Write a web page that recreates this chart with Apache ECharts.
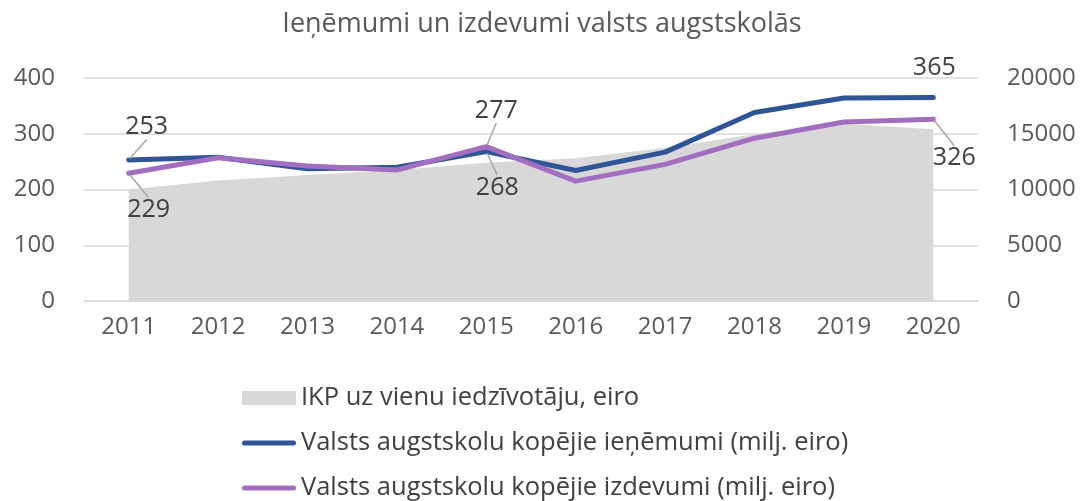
<!DOCTYPE html>
<html>
<head>
<meta charset="utf-8">
<script src="https://cdn.jsdelivr.net/npm/echarts@6/dist/echarts.min.js"></script>
<style>
html,body{margin:0;padding:0;background:#fff;}
#c{width:1084px;height:501px;}
</style>
</head>
<body>
<div id="c"></div>
<script>
const titleText = 'Ieņēmumi un izdevumi valsts augstskolās';
const years = ['2011','2012','2013','2014','2015','2016','2017','2018','2019','2020'];
const gdpName = 'IKP uz vienu iedzīvotāju, eiro';
const revName = 'Valsts augstskolu kopējie ieņēmumi (milj. eiro)';
const expName = 'Valsts augstskolu kopējie izdevumi (milj. eiro)';
const gdpPerCapita = [10000, 10800, 11300, 11750, 12400, 12800, 13750, 14950, 15900, 15400];
const revenue = [253, 258, 237, 240, 268, 234, 267, 338, 364, 365];
const expenses = [229, 257, 242, 235, 277, 215, 245, 292, 321, 326];
const leftTicks = [0, 100, 200, 300, 400];
const rightTicks = [0, 5000, 10000, 15000, 20000];
const labelledIdx = [0, 4, 9];

// label offsets (style), keyed by series index then data index
const labelOffsets = {
  1: {0: [18, -33], 4: [11, 36], 9: [1, -30]},
  2: {0: [20, 37], 4: [10, -36], 9: [21, 39]}
};
const noLeader = {1: {9: true}};

function buildLine(vals, sIdx) {
  return vals.map((v, i) => {
    const show = labelledIdx.indexOf(i) >= 0;
    const item = {value: v, label: {show: show}};
    if (show) item.labelLine = {show: !(noLeader[sIdx] && noLeader[sIdx][i])};
    return item;
  });
}

const chart = echarts.init(document.getElementById('c'));
const FONT = 'Open Sans';
const labelLayout = function (p) {
  const m = labelOffsets[p.seriesIndex];
  if (!m || !m[p.dataIndex]) return {};
  const d = m[p.dataIndex];
  return {
    x: p.rect.x + p.rect.width / 2 + d[0],
    y: p.rect.y + p.rect.height / 2 + d[1],
    align: 'center',
    verticalAlign: 'middle'
  };
};
const lineIcon = 'path://M2.5,0 H51.5 A2.5,2.5 0 0 1 51.5,5 H2.5 A2.5,2.5 0 0 1 2.5,0 Z';
chart.setOption({
  animation: false,
  backgroundColor: '#ffffff',
  textStyle: {fontFamily: FONT},
  title: {
    text: titleText,
    left: 'center',
    top: 11,
    padding: 0,
    textStyle: {fontFamily: FONT, fontSize: 27, fontWeight: 'normal', color: '#595959'}
  },
  grid: {left: 84, right: 106, top: 78, bottom: 200, containLabel: false},
  legend: {
    orient: 'vertical',
    left: 242,
    top: 383,
    height: 300,
    padding: 0,
    itemWidth: 54,
    itemHeight: 14,
    itemGap: 15,
    textStyle: {fontFamily: FONT, fontSize: 25.5, color: '#404040', lineHeight: 30},
    data: [
      {name: gdpName, icon: 'rect'},
      {name: revName, icon: lineIcon},
      {name: expName, icon: lineIcon}
    ]
  },
  xAxis: {
    type: 'category',
    data: years,
    boundaryGap: true,
    axisLine: {show: true, lineStyle: {color: '#d9d9d9', width: 1.5}},
    axisTick: {show: false},
    axisLabel: {fontFamily: FONT, fontSize: 24, color: '#595959', margin: 14}
  },
  yAxis: [
    {
      type: 'value', min: leftTicks[0], max: leftTicks[leftTicks.length - 1], interval: leftTicks[1] - leftTicks[0],
      axisLine: {show: false}, axisTick: {show: false},
      splitLine: {lineStyle: {color: '#d9d9d9', width: 1.5}},
      axisLabel: {fontFamily: FONT, fontSize: 24, color: '#595959', margin: 29}
    },
    {
      type: 'value', min: rightTicks[0], max: rightTicks[rightTicks.length - 1], interval: rightTicks[1] - rightTicks[0],
      axisLine: {show: false}, axisTick: {show: false},
      splitLine: {show: false},
      axisLabel: {fontFamily: FONT, fontSize: 24, color: '#595959', margin: 29, formatter: v => String(v)}
    }
  ],
  series: [
    {
      name: gdpName,
      type: 'line',
      yAxisIndex: 1,
      data: gdpPerCapita,
      showSymbol: false,
      symbol: 'none',
      lineStyle: {width: 0, color: '#d9d8d9'},
      itemStyle: {color: '#d9d8d9'},
      areaStyle: {color: '#d9d8d9', opacity: 1},
      z: 1
    },
    {
      name: revName,
      type: 'line',
      yAxisIndex: 0,
      data: buildLine(revenue, 1),
      showSymbol: true,
      symbol: 'circle',
      symbolSize: 3,
      lineStyle: {width: 5, color: '#2f5597', cap: 'round', join: 'round'},
      itemStyle: {color: '#2f5597'},
      label: {fontFamily: FONT, fontSize: 25, color: '#404040'},
      labelLine: {show: true, lineStyle: {color: '#a6a6a6', width: 1.5}},
      labelLayout: labelLayout,
      z: 3
    },
    {
      name: expName,
      type: 'line',
      yAxisIndex: 0,
      data: buildLine(expenses, 2),
      showSymbol: true,
      symbol: 'circle',
      symbolSize: 3,
      lineStyle: {width: 5, color: '#a26fc0', cap: 'round', join: 'round'},
      itemStyle: {color: '#a26fc0'},
      label: {fontFamily: FONT, fontSize: 25, color: '#404040'},
      labelLine: {show: true, lineStyle: {color: '#a6a6a6', width: 1.5}},
      labelLayout: labelLayout,
      z: 4
    }
  ]
});
</script>
</body>
</html>
